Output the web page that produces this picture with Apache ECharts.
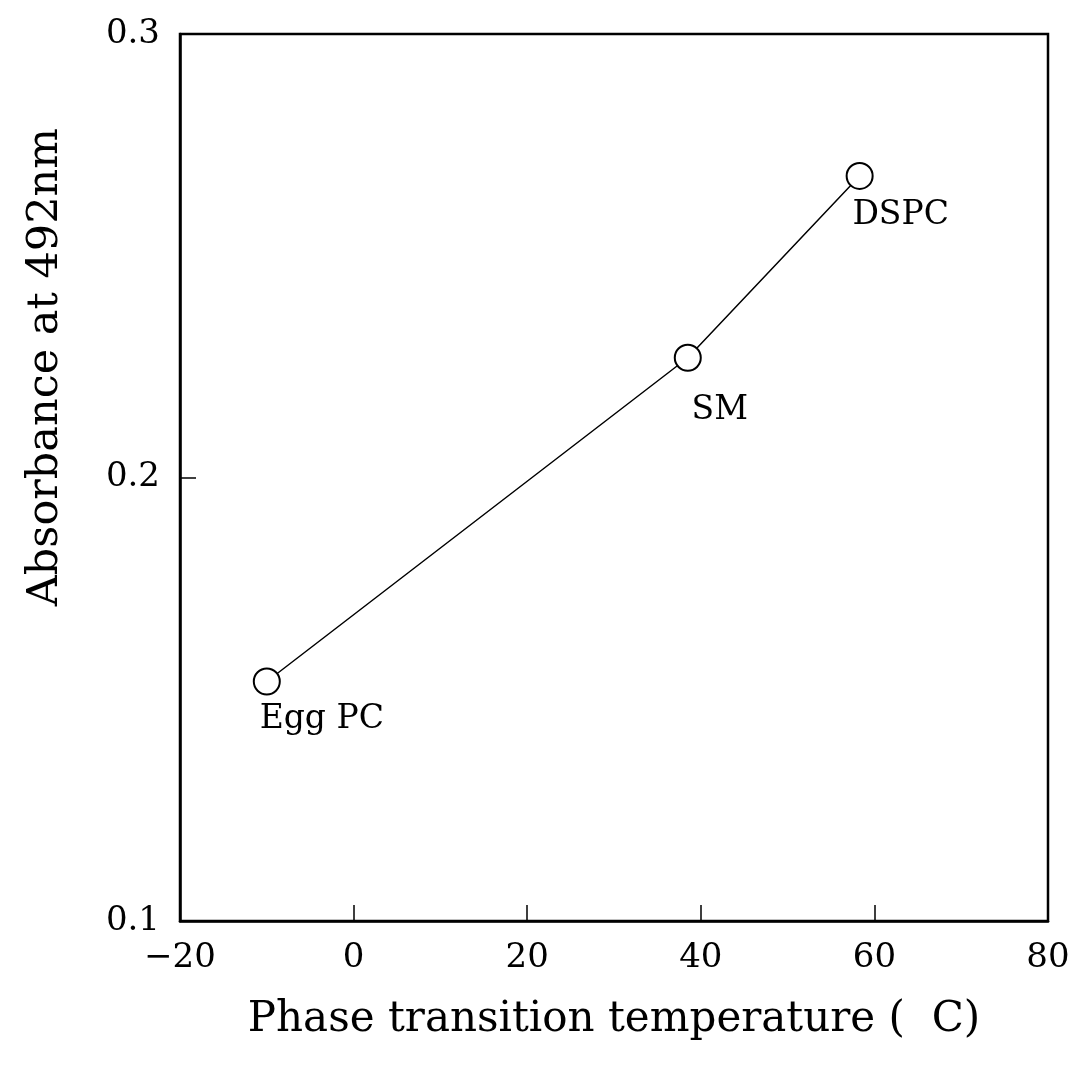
<!DOCTYPE html>
<html>
<head>
<meta charset="utf-8">
<script src="https://cdn.jsdelivr.net/npm/echarts@6/dist/echarts.min.js"></script>
<style>html,body{margin:0;padding:0;background:#fff;}#c{width:1082px;height:1070px;}</style>
</head>
<body>
<div id="c"></div>
<script>
const lipids = ["Egg PC", "SM", "DSPC"];
const transitionTemp = [-10, 38.5, 58.3];
const absorbance = [0.154, 0.227, 0.268];
const xTicks = [-20, 0, 20, 40, 60, 80];
const yTicks = [0.1, 0.2, 0.3];
const xTitle = "Phase transition temperature (  C)";
const yTitle = "Absorbance at 492nm";

const labelOffsets = [[55, 38], [32, 53], [41, 40]];
const FONT = "DejaVu Serif";

const chart = echarts.init(document.getElementById('c'));
chart.setOption({
  animation: false,
  backgroundColor: '#fff',
  grid: { left: 180, right: 34, top: 34, bottom: 149, show: true, borderColor: '#000', borderWidth: 2.5 },
  xAxis: {
    type: 'value', min: xTicks[0], max: xTicks[xTicks.length - 1], interval: 20,
    axisLine: { show: true, onZero: false, lineStyle: { color: '#000', width: 2.5 } },
    axisTick: { show: true, inside: true, length: 16, lineStyle: { color: '#000', width: 1.5 } },
    splitLine: { show: false },
    axisLabel: { color: '#000', fontFamily: FONT, fontSize: 34, margin: 20,
      formatter: v => String(v).replace('-', '\u2212') },
    name: xTitle, nameLocation: 'middle', nameGap: 78,
    nameTextStyle: { color: '#000', fontFamily: FONT, fontSize: 42 }
  },
  yAxis: {
    type: 'value', min: yTicks[0], max: yTicks[yTicks.length - 1], interval: 0.1,
    axisLine: { show: true, onZero: false, lineStyle: { color: '#000', width: 2.5 } },
    axisTick: { show: true, inside: true, length: 16, lineStyle: { color: '#000', width: 1.5 } },
    splitLine: { show: false },
    axisLabel: { color: '#000', fontFamily: FONT, fontSize: 34, margin: 20,
      formatter: v => v.toFixed(1) }
  },
  graphic: [{
    type: 'text', left: 24, top: 128,
    style: { text: yTitle, fill: '#000', font: '43px "DejaVu Serif"' },
    rotation: Math.PI / 2
  }],
  series: [{
    type: 'line',
    data: transitionTemp.map((t, i) => ({
      value: [t, absorbance[i]], name: lipids[i],
      label: { show: true, formatter: lipids[i], position: 'inside',
        offset: labelOffsets[i], color: '#000', fontFamily: FONT, fontSize: 33 }
    })),
    symbol: 'circle', symbolSize: 26, showAllSymbol: true,
    itemStyle: { color: '#fff', borderColor: '#000', borderWidth: 2 },
    lineStyle: { color: '#000', width: 1.5 },
    z: 3
  }]
});
</script>
</body>
</html>
